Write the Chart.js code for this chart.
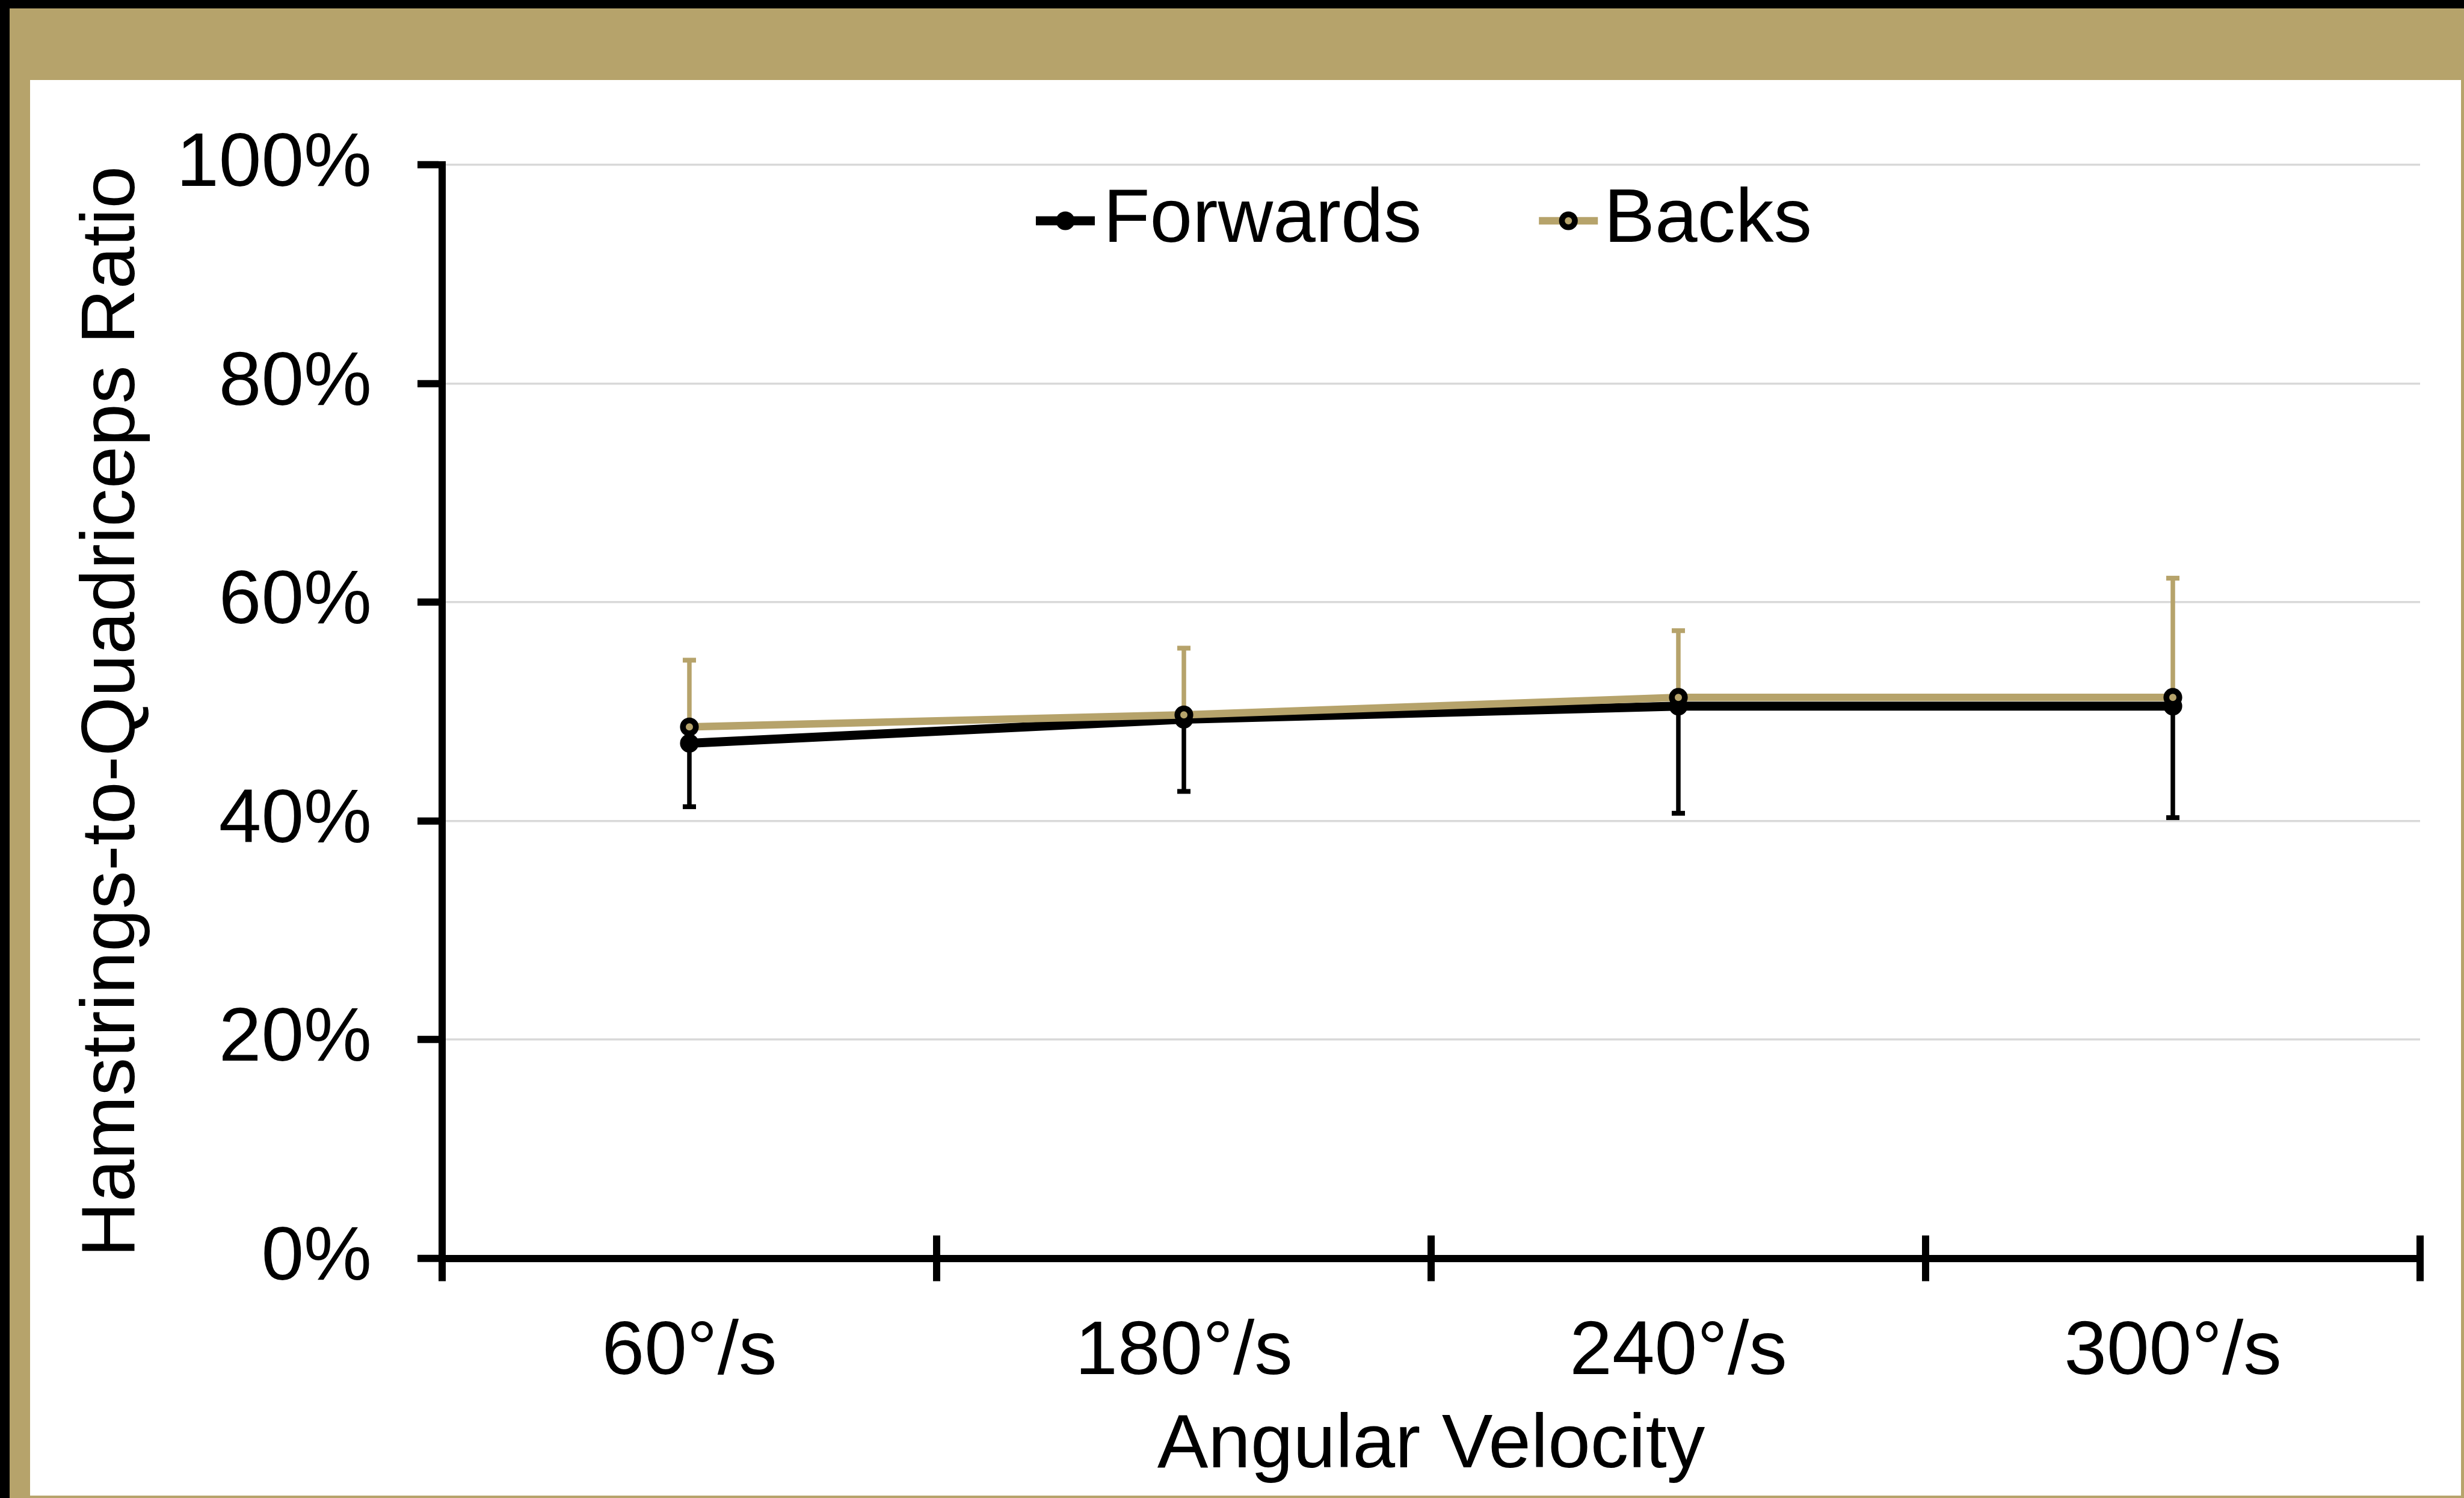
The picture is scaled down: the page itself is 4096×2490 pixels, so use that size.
<!DOCTYPE html>
<html>
<head>
<meta charset="utf-8">
<script src="https://cdn.jsdelivr.net/npm/chart.js@4.4.0/dist/chart.umd.min.js"></script>
<style>
  html, body { margin: 0; padding: 0; background: #000; overflow: hidden; }
  #gold { position: absolute; left: 16px; top: 14px; width: 4080px; height: 2476px; background: #b6a36b; }
  #white { position: absolute; left: 50px; top: 133px; width: 4041px; height: 2353px; background: #fff; }
  #wrap { position: absolute; left: 0; top: 0; width: 4096px; height: 2490px; }
</style>
</head>
<body>
<div id="gold"></div>
<div id="white"></div>
<div id="wrap"><canvas id="chart" width="4096" height="2490"></canvas></div>
<script>
const categories = ['60°/s', '180°/s', '240°/s', '300°/s'];
const forwards = [47.1, 49.3, 50.5, 50.5];
const backs = [48.6, 49.7, 51.3, 51.3];
const forwardsErr = [5.8, 6.6, 9.8, 10.2];   // shown below the points
const backsErr = [6.1, 6.1, 6.1, 10.9];      // shown above the points
const yTicks = [0, 20, 40, 60, 80, 100];

const GOLD = '#b6a36b';
const FONT = 'Liberation Sans, Arial, sans-serif';
const FS = 127;
const font = { family: FONT, size: FS, lineHeight: 1.2 };

// error bars (one direction per series), drawn behind lines
const errorBars = {
    id: 'errorBars',
    beforeDatasetsDraw(chart) {
        const ctx = chart.ctx;
        const yScale = chart.scales.y;
        chart.data.datasets.forEach((ds, di) => {
            const meta = chart.getDatasetMeta(di);
            ctx.save();
            ctx.strokeStyle = ds.borderColor;
            meta.data.forEach((pt, i) => {
                const v = ds.data[i];
                const end = v + ds.errDir * ds.err[i];
                const y0 = yScale.getPixelForValue(v);
                const y1 = yScale.getPixelForValue(end);
                ctx.lineWidth = 7.5;
                ctx.beginPath();
                ctx.moveTo(pt.x, y0);
                ctx.lineTo(pt.x, y1);
                ctx.stroke();
                ctx.lineWidth = 8;
                ctx.beginPath();
                ctx.moveTo(pt.x - 11, y1);
                ctx.lineTo(pt.x + 11, y1);
                ctx.stroke();
            });
            ctx.restore();
        });
    }
};

// upper half of the cross tick marks on the category axis
const crossTicks = {
    id: 'crossTicks',
    afterDraw(chart) {
        const ctx = chart.ctx;
        const xScale = chart.scales.x;
        const yb = chart.chartArea.bottom;
        ctx.save();
        ctx.strokeStyle = '#000';
        ctx.lineWidth = 12;
        for (let i = 0; i <= categories.length; i++) {
            const x = xScale.getPixelForValue(i - 0.5);
            ctx.beginPath();
            ctx.moveTo(x, yb);
            ctx.lineTo(x, yb - 38);
            ctx.stroke();
        }
        ctx.restore();
    }
};

// legend inside the plot, near the top
const legendInside = {
    id: 'legendInside',
    afterDraw(chart) {
        const ctx = chart.ctx;
        const area = chart.chartArea;
        ctx.save();
        ctx.font = FS + 'px ' + FONT;
        const sampleW = 98;
        const items = chart.data.datasets.map(ds => ({ ds, w: ctx.measureText(ds.label).width }));
        const gaps = [14, 10];
        const itemGap = 195;
        let total = 0;
        items.forEach((it, i) => { total += sampleW + gaps[i] + it.w; });
        total += itemGap;
        let x = (area.left + area.right) / 2 - total / 2 - 12;
        const y = area.top + 93;
        items.forEach((it, i) => {
            const ds = it.ds;
            ctx.strokeStyle = ds.borderColor;
            ctx.lineWidth = ds.borderWidth;
            ctx.beginPath();
            ctx.moveTo(x, y);
            ctx.lineTo(x + sampleW, y);
            ctx.stroke();
            ctx.beginPath();
            ctx.arc(x + sampleW / 2, y, ds.pointRadius, 0, Math.PI * 2);
            ctx.fillStyle = ds.pointBackgroundColor;
            ctx.fill();
            ctx.lineWidth = ds.pointBorderWidth;
            ctx.strokeStyle = ds.pointBorderColor;
            ctx.stroke();
            x += sampleW + gaps[i];
            ctx.fillStyle = '#000';
            ctx.textBaseline = 'middle';
            ctx.textAlign = 'left';
            ctx.fillText(ds.label, x, y);
            x += it.w + itemGap;
        });
        ctx.restore();
    }
};

const ctx = document.getElementById('chart').getContext('2d');
new Chart(ctx, {
    type: 'line',
    data: {
        labels: categories,
        datasets: [
            {
                label: 'Forwards',
                data: forwards,
                err: forwardsErr,
                errDir: -1,
                borderColor: '#000',
                backgroundColor: '#000',
                borderWidth: 15,
                pointRadius: 10.8,
                pointBorderWidth: 9.6,
                pointBackgroundColor: '#000',
                pointBorderColor: '#000',
                tension: 0,
                order: 1
            },
            {
                label: 'Backs',
                data: backs,
                err: backsErr,
                errDir: 1,
                borderColor: GOLD,
                backgroundColor: GOLD,
                borderWidth: 12.5,
                pointRadius: 10.8,
                pointBorderWidth: 9.6,
                pointBackgroundColor: GOLD,
                pointBorderColor: '#000',
                tension: 0,
                order: 0
            }
        ]
    },
    options: {
        responsive: false,
        animation: false,
        devicePixelRatio: 1,
        layout: { padding: { left: 0, top: 274, right: 73, bottom: 0 } },
        plugins: {
            legend: { display: false },
            tooltip: { enabled: false }
        },
        scales: {
            x: {
                offset: true,
                grid: {
                    offset: true,
                    drawOnChartArea: false,
                    color: '#000',
                    tickColor: '#000',
                    tickLength: 38,
                    tickWidth: 12,
                    lineWidth: 12
                },
                border: { color: '#000', width: 12 },
                ticks: { color: '#000', font: font, padding: 43, maxRotation: 0 },
                title: {
                    display: true,
                    text: 'Angular Velocity',
                    color: '#000',
                    font: font,
                    padding: { top: 0, bottom: 10 }
                },
                afterFit: s => { s.height = 2490 - 2091.6; }
            },
            y: {
                min: 0,
                max: 100,
                afterBuildTicks: s => { s.ticks = yTicks.map(v => ({ value: v })); },
                grid: {
                    color: '#d9d9d9',
                    lineWidth: 3.5,
                    tickColor: '#000',
                    tickWidth: 12,
                    tickLength: 41
                },
                border: { color: '#000', width: 12 },
                ticks: { color: '#000', font: font, padding: 76, callback: v => v + '%' },
                title: {
                    display: true,
                    text: 'Hamstrings-to-Quadriceps Ratio',
                    color: '#000',
                    font: font,
                    padding: { top: 112, bottom: 0 }
                },
                afterFit: s => { s.width = 735; }
            }
        }
    },
    plugins: [errorBars, crossTicks, legendInside]
});
</script>
</body>
</html>
